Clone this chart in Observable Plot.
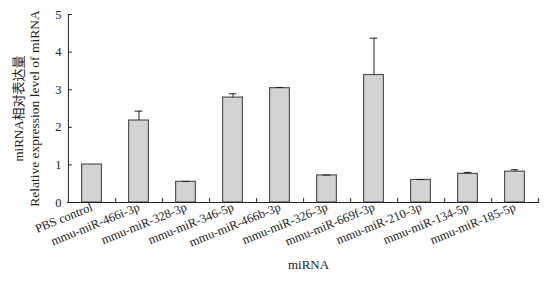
<!DOCTYPE html>
<html>
<head>
<meta charset="utf-8">
<script src="https://cdn.jsdelivr.net/npm/d3@7"></script>
<script src="https://cdn.jsdelivr.net/npm/@observablehq/plot@0.6"></script>
<style>
body { margin: 0; background: #fff; }
</style>
</head>
<body>
<div id="chart"></div>
<script>
const categories = ["PBS control","mmu-miR-466i-3p","mmu-miR-328-3p","mmu-miR-346-5p","mmu-miR-466b-3p","mmu-miR-326-3p","mmu-miR-669f-3p","mmu-miR-210-3p","mmu-miR-134-5p","mmu-miR-185-5p"];
const values = [1.01, 2.18, 0.55, 2.79, 3.04, 0.72, 3.39, 0.60, 0.76, 0.82];
const errors = [0, 0.25, 0.01, 0.10, 0.02, 0.01, 0.98, 0.01, 0.04, 0.05];
const yTicks = [0, 1, 2, 3, 4, 5];

const W = 547, H = 285, ML = 67, MR = 8, MT = 14, MB = 83;
const bw = (W - ML - MR) / categories.length;
const plotH = H - MT - MB;

const data = categories.map((c, i) => ({cat: c, v: values[i], e: errors[i], top: values[i] + errors[i]}));
const errData = data.filter(d => d.e > 0);

const lineShape = {draw(ctx, l) { ctx.moveTo(0, 0); ctx.lineTo(0, -l); }};
const font = "'Liberation Serif', 'Times New Roman', serif";
const cjk = "'Liberation Serif', 'Noto Sans CJK SC', serif";

const chart = Plot.plot({
  width: W, height: H,
  marginLeft: ML, marginRight: MR, marginTop: MT, marginBottom: MB,
  style: {fontFamily: font, fontSize: "12px", color: "#222", background: "#fff"},
  x: {type: "band", domain: categories, padding: 0},
  y: {domain: [0, 5]},
  marks: [
    Plot.barY(data, {x: "cat", y: "v", fill: "#d3d3d3", stroke: "#555", strokeWidth: 1.2, insetLeft: (bw - 20) / 2, insetRight: (bw - 20) / 2}),
    Plot.ruleX(errData, {x: "cat", y1: "v", y2: "top", stroke: "#222", strokeWidth: 1}),
    Plot.tickY(errData, {x: "cat", y: "top", stroke: "#222", strokeWidth: 1, insetLeft: (bw - 8) / 2, insetRight: (bw - 8) / 2}),
    Plot.ruleY([0], {stroke: "#222", strokeWidth: 1}),
    Plot.vector([0], {x: () => categories[0], y: 0, length: plotH, rotate: 0, anchor: "start", dx: -bw / 2, shape: lineShape, stroke: "#222", strokeWidth: 1}),
    Plot.vector(yTicks, {x: () => categories[0], y: d => d, length: 3, rotate: 90, anchor: "start", dx: -bw / 2, shape: lineShape, stroke: "#222", strokeWidth: 1}),
    Plot.vector(categories, {x: d => d, y: 0, length: 4, rotate: 0, anchor: "start", dx: bw / 2, shape: lineShape, stroke: "#222", strokeWidth: 1}),
    Plot.axisY({ticks: yTicks, tickFormat: d3.format("d"), tickSize: 0, tickPadding: 6, label: null, fontSize: 12.5, fill: "#222"}),
    Plot.axisX({tickSize: 0, tickPadding: 4, tickRotate: -22, label: null, fontSize: 12.5, fill: "#222"}),
    Plot.text(["miRNA相对表达量"], {frameAnchor: "left", textAnchor: "middle", rotate: -90, dx: -49, fontSize: 13, fontFamily: cjk, fill: "#222"}),
    Plot.text(["Relative expression level of miRNA"], {frameAnchor: "left", textAnchor: "middle", rotate: -90, dx: -33, fontSize: 13.5, fill: "#222"}),
    Plot.text(["miRNA"], {frameAnchor: "bottom", dy: 66, dx: 5, fontSize: 13, fill: "#222"})
  ]
});
document.getElementById("chart").appendChild(chart);
</script>
</body>
</html>
